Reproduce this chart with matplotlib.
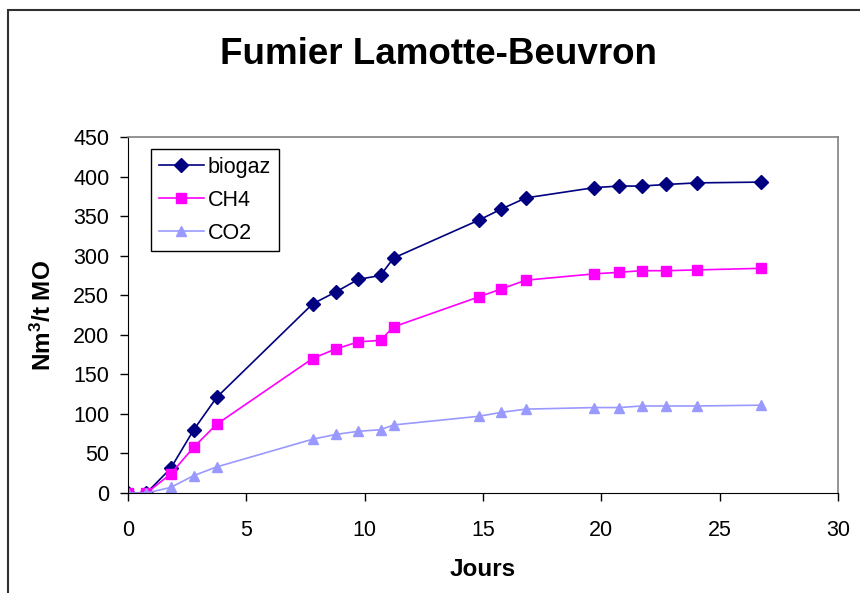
import matplotlib
matplotlib.use("Agg")
import matplotlib.pyplot as plt
from matplotlib.patches import Rectangle

# Jours de mesure et volumes cumulés (Nm3/t MO)
jours = [0, 0.78, 1.8, 2.78, 3.75, 7.8, 8.77, 9.73, 10.67, 11.22,
         14.83, 15.78, 16.81, 19.7, 20.75, 21.71, 22.75, 24.03, 26.75]
biogaz = [0, 0, 31, 80, 121, 239, 254, 270, 275, 297,
          345, 359, 373, 386, 388, 388, 390, 392, 393]
ch4 = [0, 0, 24, 58, 87, 170, 182, 191, 193, 210,
       248, 258, 269, 277, 279, 281, 281, 282, 284]
co2 = [0, 0, 7, 22, 33, 68, 74, 78, 80, 86,
       97, 102, 106, 108, 108, 110, 110, 110, 111]

plt.rcParams['font.family'] = ['Liberation Sans', 'DejaVu Sans']
plt.rcParams['mathtext.fontset'] = 'custom'
plt.rcParams['mathtext.bf'] = 'Liberation Sans:bold'
plt.rcParams['mathtext.rm'] = 'Liberation Sans'

fig = plt.figure(figsize=(8.6, 5.93), dpi=100)
ax = fig.add_axes([128 / 860, 1 - 493 / 593, 710 / 860, 356 / 593])

ax.plot(jours, biogaz, color='#000080', marker='D', markersize=6.8, linewidth=1.2, label='biogaz')
ax.plot(jours, ch4, color='#FF00FF', marker='s', markersize=6.8, linewidth=1.2, label='CH4')
ax.plot(jours, co2, color='#9999FF', marker='^', markersize=7.8, linewidth=1.2, label='CO2')

ax.set_xlim(0, 30)
ax.set_ylim(0, 450)
ax.set_xticks(range(0, 31, 5))
ax.set_yticks(range(0, 451, 50))
ax.tick_params(direction='out', length=5.5, width=1, labelsize=15.5)
ax.tick_params(axis='x', pad=14)
ax.tick_params(axis='y', pad=8)

for side in ['left', 'bottom']:
    ax.spines[side].set_color('black')
for side in ['top', 'right']:
    ax.spines[side].set_color('#808080')
    ax.spines[side].set_linewidth(1.2)

ax.set_xlabel('Jours', fontsize=17.5, fontweight='bold')
ax.set_ylabel(r'Nm$\mathbf{^3}$/t MO', fontsize=17.5, fontweight='bold')
ax.xaxis.set_label_coords(0.5, (493 - 558) / 356)
ax.yaxis.set_label_coords((56 - 128) / 710, 0.5)

fig.text(438 / 860, 1 - 55 / 593, 'Fumier Lamotte-Beuvron', fontsize=26.5, fontweight='bold',
         ha='center', va='center')

leg = ax.legend(loc='upper left', bbox_to_anchor=(23 / 710, 1 - 12.5 / 356), borderaxespad=0,
                fontsize=15.5, frameon=True, fancybox=False, edgecolor='black', framealpha=1,
                handlelength=2.1, borderpad=0.35, labelspacing=0.55, handletextpad=0.2)
leg.get_frame().set_linewidth(1.0)

# cadre du graphique
fig.patches.append(Rectangle((8 / 860, -0.5), 2, 1.5 - 10 / 593, transform=fig.transFigure,
                             fill=False, edgecolor='#303030', linewidth=1.5))

fig.savefig('out.png', dpi=100, facecolor='white')
